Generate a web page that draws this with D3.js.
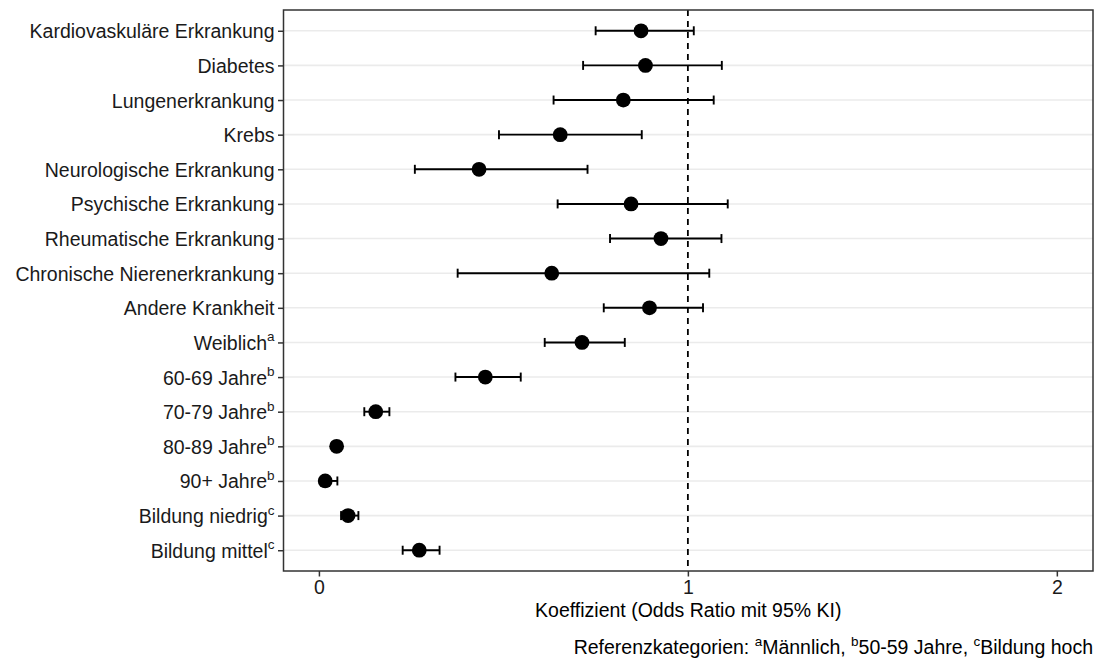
<!DOCTYPE html>
<html>
<head>
<meta charset="utf-8">
<script src="https://cdn.jsdelivr.net/npm/d3@7"></script>
<style>
  html, body { margin: 0; padding: 0; background: #fff; }
  svg { display: block; font-family: "Liberation Sans", Arial, Helvetica, sans-serif; }
</style>
</head>
<body>
<svg id="chart" width="1100" height="662"></svg>
<script>
// ---- data ----
const categories = [
  "Kardiovaskuläre Erkrankung", "Diabetes", "Lungenerkrankung", "Krebs",
  "Neurologische Erkrankung", "Psychische Erkrankung", "Rheumatische Erkrankung",
  "Chronische Nierenerkrankung", "Andere Krankheit", "Weiblich", "60-69 Jahre",
  "70-79 Jahre", "80-89 Jahre", "90+ Jahre", "Bildung niedrig", "Bildung mittel"
];
const superscripts = ["", "", "", "", "", "", "", "", "", "a", "b", "b", "b", "b", "c", "c"];
const oddsRatio = [0.873, 0.885, 0.825, 0.654, 0.434, 0.846, 0.927, 0.631, 0.896, 0.713, 0.451, 0.154, 0.048, 0.017, 0.079, 0.272];
const ciLower   = [0.750, 0.716, 0.636, 0.488, 0.260, 0.647, 0.789, 0.376, 0.772, 0.612, 0.370, 0.123, 0.040, 0.010, 0.060, 0.227];
const ciUpper   = [1.016, 1.092, 1.070, 0.875, 0.728, 1.108, 1.091, 1.058, 1.041, 0.829, 0.547, 0.191, 0.057, 0.050, 0.107, 0.327];
const xTicks = [0, 1, 2];
const referenceLine = 1;
const xTitle = "Koeffizient (Odds Ratio mit 95% KI)";
const captionParts = [
  {text: "Referenzkategorien: ", sup: false},
  {text: "a", sup: true}, {text: "Männlich, ", sup: false},
  {text: "b", sup: true}, {text: "50-59 Jahre, ", sup: false},
  {text: "c", sup: true}, {text: "Bildung hoch", sup: false}
];

const rows = categories.map((c, i) => ({cat: c, sup: superscripts[i], or: oddsRatio[i], lo: ciLower[i], hi: ciUpper[i]}));

// ---- layout ----
const panel = {left: 283.5, right: 1093, top: 10, bottom: 571};
const svg = d3.select("#chart");
svg.append("rect").attr("width", 1100).attr("height", 662).attr("fill", "#fff");

const x = d3.scaleLinear().domain([-0.096, 2.098]).range([panel.left, panel.right]);
const y = d3.scalePoint().domain(categories).range([panel.top, panel.bottom]).padding(0.6);

const fontSize = 19.5;
const supSize = 13.5;
const supShift = 8.5;

// gridlines
svg.append("g").selectAll("line").data(categories).join("line")
  .attr("x1", panel.left).attr("x2", panel.right)
  .attr("y1", d => y(d)).attr("y2", d => y(d))
  .attr("stroke", "#ebebeb").attr("stroke-width", 1.6);

// reference line
svg.append("line")
  .attr("x1", x(referenceLine)).attr("x2", x(referenceLine))
  .attr("y1", panel.top).attr("y2", panel.bottom)
  .attr("stroke", "#000").attr("stroke-width", 1.8)
  .attr("stroke-dasharray", "6,5");

// error bars
const capH = 4.5;
const eb = svg.append("g").attr("stroke", "#000").attr("stroke-width", 1.9);
eb.selectAll("line.h").data(rows).join("line").attr("class", "h")
  .attr("x1", d => x(d.lo)).attr("x2", d => x(d.hi))
  .attr("y1", d => y(d.cat)).attr("y2", d => y(d.cat));
eb.selectAll("line.l").data(rows).join("line").attr("class", "l")
  .attr("x1", d => x(d.lo)).attr("x2", d => x(d.lo))
  .attr("y1", d => y(d.cat) - capH).attr("y2", d => y(d.cat) + capH);
eb.selectAll("line.u").data(rows).join("line").attr("class", "u")
  .attr("x1", d => x(d.hi)).attr("x2", d => x(d.hi))
  .attr("y1", d => y(d.cat) - capH).attr("y2", d => y(d.cat) + capH);

// points
svg.append("g").selectAll("circle").data(rows).join("circle")
  .attr("cx", d => x(d.or)).attr("cy", d => y(d.cat)).attr("r", 7.4)
  .attr("fill", "#000");

// panel border
svg.append("rect")
  .attr("x", panel.left).attr("y", panel.top)
  .attr("width", panel.right - panel.left).attr("height", panel.bottom - panel.top)
  .attr("fill", "none").attr("stroke", "#333").attr("stroke-width", 1.5);

// x axis
const xAxis = d3.axisBottom(x).tickValues(xTicks).tickSize(5.5).tickPadding(3.5).tickFormat(d3.format("d"));
const gx = svg.append("g").attr("transform", `translate(0,${panel.bottom})`).call(xAxis);
gx.select(".domain").remove();
gx.selectAll(".tick line").attr("stroke", "#333").attr("stroke-width", 1.5);
gx.selectAll(".tick text").attr("fill", "#1a1a1a").style("font-size", fontSize + "px")
  .style("font-family", "'Liberation Sans', Arial, sans-serif");

// y axis
const yAxis = d3.axisLeft(y).tickSize(5.5).tickPadding(3).tickFormat("");
const gy = svg.append("g").attr("transform", `translate(${panel.left},0)`).call(yAxis);
gy.select(".domain").remove();
gy.selectAll(".tick line").attr("stroke", "#333").attr("stroke-width", 1.5);
gy.selectAll(".tick").each(function(d, i) {
  const t = d3.select(this).append("text")
    .attr("x", -9).attr("dy", "0.36em")
    .attr("text-anchor", "end").attr("fill", "#1a1a1a")
    .style("font-size", fontSize + "px")
    .style("font-family", "'Liberation Sans', Arial, sans-serif");
  t.append("tspan").text(d);
  const s = superscripts[i];
  if (s) {
    t.append("tspan").text(s).attr("dy", -supShift).style("font-size", supSize + "px");
  }
});

// x title
svg.append("text")
  .attr("x", (panel.left + panel.right) / 2).attr("y", 617)
  .attr("text-anchor", "middle").attr("fill", "#000")
  .style("font-size", fontSize + "px")
  .text(xTitle);

// caption
const cap = svg.append("text")
  .attr("x", panel.right).attr("y", 654)
  .attr("text-anchor", "end").attr("fill", "#000")
  .style("font-size", fontSize + "px");
let prevSup = false;
captionParts.forEach(p => {
  const ts = cap.append("tspan").text(p.text);
  if (p.sup) {
    ts.attr("dy", -supShift).style("font-size", supSize + "px");
  } else if (prevSup) {
    ts.attr("dy", supShift);
  }
  prevSup = p.sup;
});
</script>
</body>
</html>
